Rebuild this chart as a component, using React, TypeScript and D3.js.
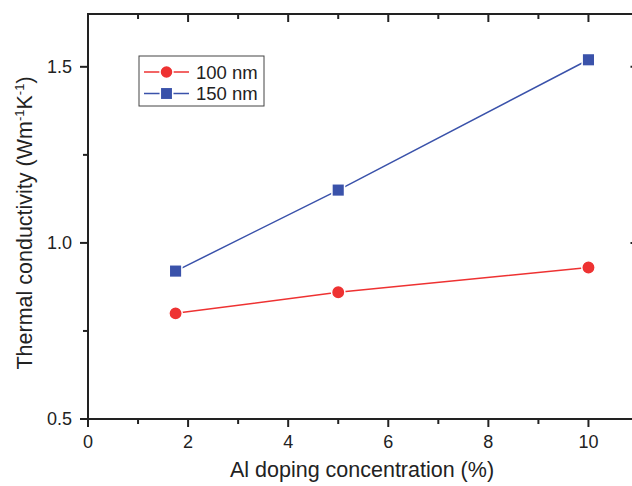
import React from "react";
import * as d3 from "d3";

const xValues = [1.75, 5, 10];
const series100 = [0.8, 0.86, 0.93];
const series150 = [0.92, 1.15, 1.52];
const xTicks = [0, 2, 4, 6, 8, 10];
const xMinorTicks = [1, 3, 5, 7, 9, 11];
const yTicks = [0.5, 1.0, 1.5];
const yMinorTicks = [0.75, 1.25];
const seriesNames = ["100 nm", "150 nm"];

const W = 632;
const H = 486;
const RED = "#ee3232";
const BLUE = "#3a52aa";
const FONT = "Liberation Sans, Arial, sans-serif";

export default function App() {
  const x = d3.scaleLinear().domain([0, 11]).range([88, 638.5]);
  const y = d3.scaleLinear().domain([0.5, 1.65]).range([419, 14]);
  const left = x(0);
  const right = x(11);
  const top = y(1.65);
  const bottom = y(0.5);
  const line = d3
    .line<number>()
    .x((_, i) => x(xValues[i]))
    .y((d) => y(d));

  const legX = 139;
  const legY = 56;

  return (
    <svg
      width={W}
      height={H}
      style={{ position: "absolute", left: 0, top: 0, background: "#fff" }}
      fontFamily={FONT}
    >
      <rect x={0} y={0} width={W} height={H} fill="#fff" />
      {/* frame */}
      <rect x={left} y={top} width={right - left} height={bottom - top} fill="none" stroke="#222" strokeWidth={2} />
      {/* x ticks bottom & top */}
      {xTicks.map((t) => (
        <g key={"xt" + t}>
          <line x1={x(t)} x2={x(t)} y1={bottom} y2={bottom + 8} stroke="#222" strokeWidth={2} />
          <line x1={x(t)} x2={x(t)} y1={top} y2={top + 8} stroke="#222" strokeWidth={2} />
          <text x={x(t)} y={bottom + 29} textAnchor="middle" fontSize={18} fill="#222">
            {t}
          </text>
        </g>
      ))}
      {xMinorTicks.map((t) => (
        <g key={"xm" + t}>
          <line x1={x(t)} x2={x(t)} y1={bottom} y2={bottom + 5} stroke="#222" strokeWidth={2} />
          <line x1={x(t)} x2={x(t)} y1={top} y2={top + 5} stroke="#222" strokeWidth={2} />
        </g>
      ))}
      {yTicks.map((t) => (
        <g key={"yt" + t}>
          <line x1={left - 8} x2={left} y1={y(t)} y2={y(t)} stroke="#222" strokeWidth={2} />
          <line x1={right - 8} x2={right} y1={y(t)} y2={y(t)} stroke="#222" strokeWidth={2} />
          <text x={left - 16} y={y(t) + 6} textAnchor="end" fontSize={18} fill="#222">
            {t.toFixed(1)}
          </text>
        </g>
      ))}
      {yMinorTicks.map((t) => (
        <g key={"ym" + t}>
          <line x1={left - 5} x2={left} y1={y(t)} y2={y(t)} stroke="#222" strokeWidth={2} />
          <line x1={right - 5} x2={right} y1={y(t)} y2={y(t)} stroke="#222" strokeWidth={2} />
        </g>
      ))}
      {/* axis titles */}
      <text x={362} y={477} textAnchor="middle" fontSize={21.5} fill="#222">
        Al doping concentration (%)
      </text>
      <text
        transform={`translate(32, 223) rotate(-90)`}
        textAnchor="middle"
        fontSize={21.5}
        fill="#222"
      >
        Thermal conductivity (Wm
        <tspan dy={-8} fontSize={13}>-1</tspan>
        <tspan dy={8}>K</tspan>
        <tspan dy={-8} fontSize={13}>-1</tspan>
        <tspan dy={8}>)</tspan>
      </text>
      {/* series */}
      <path d={line(series100) || ""} fill="none" stroke={RED} strokeWidth={1.5} />
      <path d={line(series150) || ""} fill="none" stroke={BLUE} strokeWidth={1.5} />
      {series100.map((v, i) => (
        <circle key={"c" + i} cx={x(xValues[i])} cy={y(v)} r={6.7} fill={RED} stroke="#fff" strokeWidth={1.5} />
      ))}
      {series150.map((v, i) => (
        <rect
          key={"s" + i}
          x={x(xValues[i]) - 6.3}
          y={y(v) - 6.3}
          width={12.6}
          height={12.6}
          fill={BLUE}
          stroke="#fff"
          strokeWidth={1.5}
        />
      ))}
      {/* legend */}
      <rect x={legX} y={legY} width={125} height={50} fill="#fff" stroke="#444" strokeWidth={1} />
      {seriesNames.map((name, i) => {
        const cy = legY + 16 + i * 21.5;
        const col = i === 0 ? RED : BLUE;
        return (
          <g key={name}>
            <line x1={144} x2={189} y1={cy} y2={cy} stroke={col} strokeWidth={1.5} />
            {i === 0 ? (
              <circle cx={166.5} cy={cy} r={6.5} fill={col} stroke="#fff" strokeWidth={1.5} />
            ) : (
              <rect x={166.5 - 6.2} y={cy - 6.2} width={12.4} height={12.4} fill={col} stroke="#fff" strokeWidth={1.5} />
            )}
            <text x={196} y={cy + 6.5} fontSize={18.5} fill="#222">
              {name}
            </text>
          </g>
        );
      })}
    </svg>
  );
}
